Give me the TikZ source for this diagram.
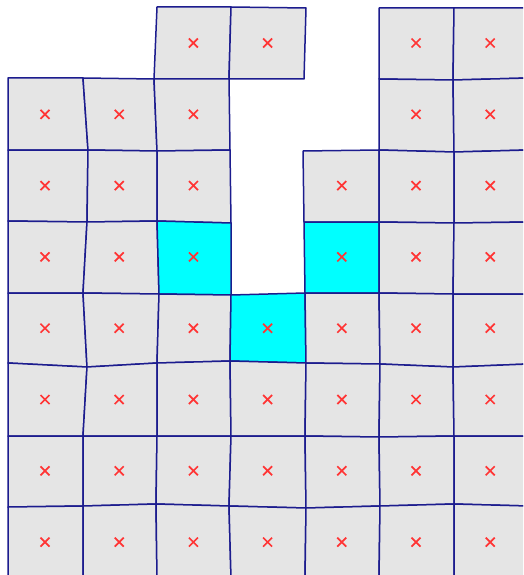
\documentclass[tikz,border=0pt]{standalone}
\usepackage{xcolor}
\usepackage{tikz}
\usetikzlibrary{calc}
\definecolor{meshblue}{HTML}{1C1C8E}
\definecolor{cellgray}{HTML}{E5E5E5}
\definecolor{hitcyan}{HTML}{00FFFF}
\definecolor{markred}{HTML}{FF3535}
\tikzset{
  cell/.style={fill=cellgray, draw=meshblue, line width=1.5pt, line join=round},
  hitcell/.style={cell, fill=hitcyan},
  centremark/.style={draw=markred, line width=1.7pt},
}
\begin{document}
\begin{tikzpicture}[x=1pt, y=-1pt]
\useasboundingbox (0,0) rectangle (523,575);
\clip (0,0) rectangle (523,575);
% mesh vertices, slightly distorted
\foreach \i/\j/\x/\y in {
  2/0/157/7, 3/0/231/7, 4/0/306/8, 5/0/379/8, 6/0/454/8, 7/0/528/8,
  0/1/8/78, 1/1/83/78, 2/1/154/79, 3/1/229/79, 4/1/304/79, 5/1/379/79, 6/1/453/80, 7/1/528/78,
  0/2/8/150, 1/2/88/150, 2/2/157/151, 3/2/230/150, 4/2/303/151, 5/2/379/150, 6/2/454/152, 7/2/528/150,
  0/3/8/221, 1/3/87/222, 2/3/157/221, 3/3/231/223, 4/3/304/222, 5/3/379/222, 6/3/454/223, 7/3/528/222,
  0/4/8/293, 1/4/83/293, 2/4/159/294, 3/4/231/295, 4/4/305/293, 5/4/379/293, 6/4/453/294, 7/4/528/294,
  0/5/8/363, 1/5/87/367, 2/5/157/363, 3/5/230/361, 4/5/306/363, 5/5/380/364, 6/5/453/367, 7/5/528/364,
  0/6/8/436, 1/6/83/436, 2/6/157/436, 3/6/231/436, 4/6/305/436, 5/6/379/437, 6/6/454/436, 7/6/528/436,
  0/7/8/507, 1/7/83/506, 2/7/156/504, 3/7/229/506, 4/7/306/508, 5/7/380/506, 6/7/454/504, 7/7/528/506,
  0/8/8/578, 1/8/83/578, 2/8/157/578, 3/8/231/578, 4/8/305/578, 5/8/379/578, 6/8/454/578, 7/8/528/578}
  \coordinate (v-\i-\j) at (\x,\y);
% cells: column/row/style
\foreach \i/\j/\s in {
  2/0/cell, 3/0/cell, 5/0/cell, 6/0/cell,
  0/1/cell, 1/1/cell, 2/1/cell, 5/1/cell, 6/1/cell,
  0/2/cell, 1/2/cell, 2/2/cell, 4/2/cell, 5/2/cell, 6/2/cell,
  0/3/cell, 1/3/cell, 2/3/hitcell, 4/3/hitcell, 5/3/cell, 6/3/cell,
  0/4/cell, 1/4/cell, 2/4/cell, 3/4/hitcell, 4/4/cell, 5/4/cell, 6/4/cell,
  0/5/cell, 1/5/cell, 2/5/cell, 3/5/cell, 4/5/cell, 5/5/cell, 6/5/cell,
  0/6/cell, 1/6/cell, 2/6/cell, 3/6/cell, 4/6/cell, 5/6/cell, 6/6/cell,
  0/7/cell, 1/7/cell, 2/7/cell, 3/7/cell, 4/7/cell, 5/7/cell, 6/7/cell}
  {
  \pgfmathtruncatemacro{\ii}{\i+1}
  \pgfmathtruncatemacro{\jj}{\j+1}
  \draw[\s] (v-\i-\j) -- (v-\ii-\j) -- (v-\ii-\jj) -- (v-\i-\jj) -- cycle;
  \coordinate (c-\i-\j) at (45+74.2*\i, 43+71.3*\j);
  \draw[centremark] (c-\i-\j) ++(-4.5,-4.5) -- ++(9,9) ++(-9,0) -- ++(9,-9);
  }
\end{tikzpicture}
\end{document}
